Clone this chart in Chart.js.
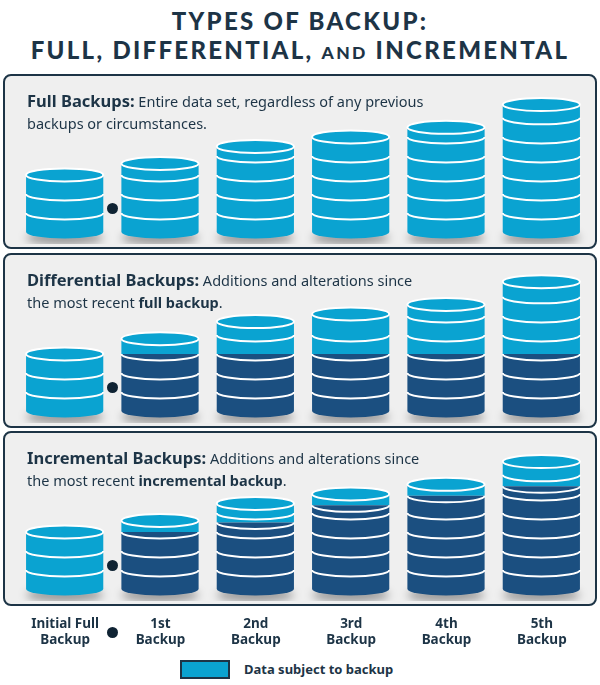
<!DOCTYPE html>
<html><head><meta charset="utf-8">
<script src="https://cdn.jsdelivr.net/npm/chart.js@4"></script>
<style>
body{margin:0;width:600px;height:685px;background:#fff;position:relative;font-family:"Noto Sans",sans-serif;color:#1d3446;overflow:hidden}
.title{position:absolute;top:6px;left:0;width:600px;text-align:center;font-family:Lato,sans-serif;font-weight:900;font-size:24px;letter-spacing:2.3px;line-height:29px}
.title small{font-size:17.5px}
.panel{position:absolute;left:3px;width:590px;border:2.5px solid #1d3446;border-radius:8px;background:#efefef;overflow:hidden}
.panel canvas{position:absolute;left:0;top:0}
.txt{position:absolute;left:22px;top:14px;font-size:14.5px;line-height:22px;z-index:2;width:414px}
.txt b.h{font-size:16.5px}
.lbl{position:absolute;top:615px;width:100px;margin-left:-50px;text-align:center;font-weight:700;font-size:13.5px;line-height:16px}
.dot{position:absolute;width:11px;height:11px;border-radius:50%;background:#0f2333;margin:-5.5px 0 0 -5.5px}
.leg{position:absolute;left:180px;top:660px;width:46px;height:15px;background:#0aa3d1;border:2px solid #1d3446}
.legt{position:absolute;left:244px;top:660px;font-weight:700;font-size:13px}
</style></head><body>
<div class="title">TYPES OF BACKUP:<br>FULL, DIFFERENTIAL, <small>AND</small> INCREMENTAL</div>
<div class="panel" id="p0" style="top:74px;height:171px"><div class="txt" style="width:450px"><b class="h">Full Backups:</b> Entire data set, regardless of any previous backups or circumstances.</div><canvas id="c0"></canvas></div>
<div class="panel" id="p1" style="top:253px;height:171px"><div class="txt" style="width:404px"><b class="h">Differential Backups:</b> Additions and alterations since the most recent <b>full backup</b>.</div><canvas id="c1"></canvas></div>
<div class="panel" id="p2" style="top:431px;height:171px"><div class="txt"><b class="h">Incremental Backups:</b> Additions and alterations since the most recent <b>incremental backup</b>.</div><canvas id="c2"></canvas></div>
<div class="leg"></div><div class="legt">Data subject to backup</div>
<script>
const categories = [["Initial Full","Backup"],["1st","Backup"],["2nd","Backup"],["3rd","Backup"],["4th","Backup"],["5th","Backup"]];
const fullOld = [0, 0, 0, 0, 0, 0];
const fullNew = [3, 3.6, 4.5, 5, 5.5, 6.7];
const diffOld = [0, 3, 3, 3, 3, 3];
const diffNew = [3, 0.8, 1.7, 2.1, 2.6, 3.8];
const incOld = [0, 3, 3.5, 4.4, 4.9, 5.4];
const incNew = [3, 0.6, 1.0, 0.6, 0.6, 1.3];
const legendLabel = "Data subject to backup";

const LIGHT = "#0aa3d1", DARK = "#1b4f80";

const cyl = {
  id: "cyl",
  beforeDatasetsDraw(chart) {
    const ctx = chart.ctx, m0 = chart.getDatasetMeta(0);
    m0.data.forEach((b) => {
      const w = b.width;
      ctx.save();
      ctx.fillStyle = "rgba(0,0,0,0.35)";
      ctx.filter = "blur(4px)";
      ctx.beginPath(); ctx.ellipse(b.x, b.base + 6, w / 2, 7, 0, 0, Math.PI * 2); ctx.fill();
      ctx.restore();
    });
  },
  afterDatasetsDraw(chart) {
    const ctx = chart.ctx, y = chart.scales.y;
    const m0 = chart.getDatasetMeta(0), m1 = chart.getDatasetMeta(1);
    const ry = 6.5;
    const oldV = chart.data.datasets[0].data, newV = chart.data.datasets[1].data;
    m1.data.forEach((b, i) => {
      const x = b.x, rx = b.width / 2, base = m0.data[i].base, top = b.y;
      const bottomColor = oldV[i] > 0 ? DARK : LIGHT;
      ctx.save();
      ctx.fillStyle = bottomColor;
      ctx.beginPath(); ctx.ellipse(x, base, rx, ry, 0, 0, Math.PI); ctx.fill();
      ctx.strokeStyle = "#fff"; ctx.lineWidth = 2;
      const tot = oldV[i] + newV[i];
      const lines = [];
      for (let k = 1; k < tot - 0.35; k++) if (Math.abs(k - oldV[i]) > 0.3) lines.push(k);
      if (oldV[i] > 0) lines.push(oldV[i]);
      lines.forEach(v => {
        const py = y.getPixelForValue(v);
        ctx.beginPath(); ctx.ellipse(x, py, rx, ry, 0, 0, Math.PI); ctx.stroke();
      });
      ctx.fillStyle = LIGHT;
      ctx.beginPath(); ctx.ellipse(x, top, rx, ry, 0, 0, Math.PI * 2); ctx.fill(); ctx.stroke();
      ctx.restore();
    });
  }
};

function make(id, oldD, newD) {
  return new Chart(document.getElementById(id), {
    type: "bar",
    data: { labels: categories, datasets: [
      { label: "Previous data", data: oldD, backgroundColor: DARK, borderWidth: 0, categoryPercentage: 0.81, barPercentage: 1 },
      { label: legendLabel, data: newD, backgroundColor: LIGHT, borderWidth: 0, categoryPercentage: 0.81, barPercentage: 1 }
    ]},
    options: {
      responsive: false, animation: false,
      layout: { padding: { left: 12, right: 4, top: 0, bottom: 12 } },
      plugins: { legend: { display: false }, tooltip: { enabled: false } },
      scales: {
        x: { stacked: true, display: false },
        y: { stacked: true, display: false, min: 0, max: 8.2 }
      }
    },
    plugins: [cyl]
  });
}
const sets = [[fullOld, fullNew], [diffOld, diffNew], [incOld, incNew]];
let chart;
sets.forEach((s, k) => {
  const c = document.getElementById("c" + k);
  c.width = 588; c.height = 168;
  c.style.width = "588px"; c.style.height = "168px";
  chart = make("c" + k, s[0], s[1]);
  const xs = chart.scales.x;
  const p = document.getElementById("p" + k);
  const d = document.createElement("div"); d.className = "dot";
  d.style.left = ((xs.getPixelForValue(0) + xs.getPixelForValue(1)) / 2) + "px";
  d.style.top = "132px"; p.appendChild(d);
});
const xs = chart.scales.x;
categories.forEach((c, i) => {
  const l = document.createElement("div"); l.className = "lbl";
  l.style.left = (xs.getPixelForValue(i) + 5.5) + "px";
  l.innerHTML = c.join("<br>");
  document.body.appendChild(l);
});
const dd = document.createElement("div"); dd.className = "dot";
dd.style.left = ((xs.getPixelForValue(0) + xs.getPixelForValue(1)) / 2 + 5.5) + "px";
dd.style.top = "632px"; document.body.appendChild(dd);
</script>
</body></html>
